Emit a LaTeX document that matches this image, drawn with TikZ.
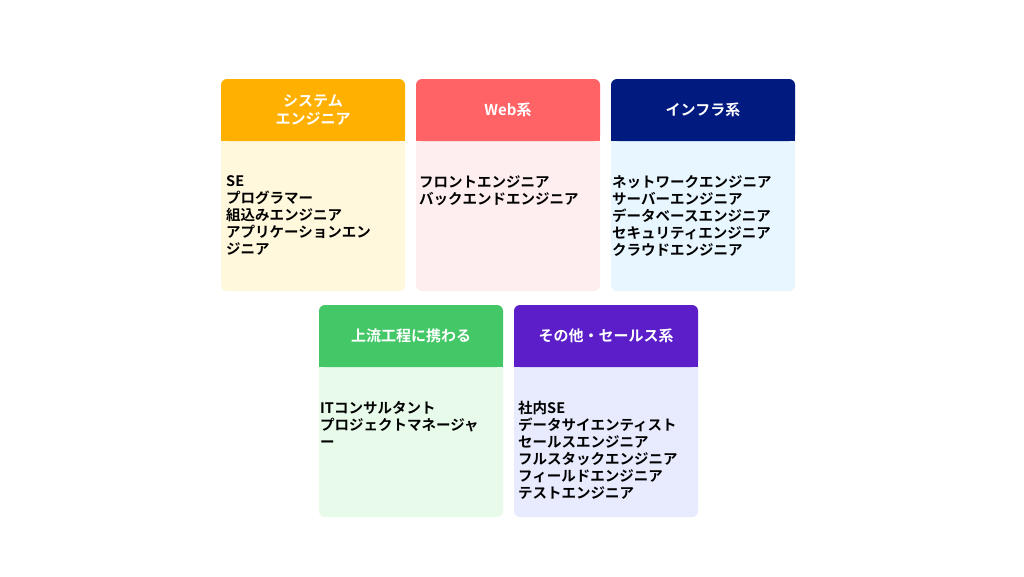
\documentclass[tikz,border=0pt]{standalone}
\usepackage{fontspec}
\newfontfamily\jp{Noto Sans CJK JP}[BoldFont={Noto Sans CJK JP Bold}]
\definecolor{h1}{HTML}{FFB000}\definecolor{b1}{HTML}{FFF8DC}
\definecolor{h2}{HTML}{FF6366}\definecolor{b2}{HTML}{FFEEEF}
\definecolor{h3}{HTML}{001A80}\definecolor{b3}{HTML}{E8F6FF}
\definecolor{h4}{HTML}{44C767}\definecolor{b4}{HTML}{E8FBEA}
\definecolor{h5}{HTML}{5B1EC8}\definecolor{b5}{HTML}{E8EAFE}
\tikzset{
 headtext/.style={text=white,font=\jp\bfseries\fontsize{15}{18}\selectfont,align=center},
 bodytext/.style={anchor=north west,font=\jp\bfseries\fontsize{14.5}{17}\selectfont,align=left,inner sep=0pt}
}
\newcommand{\catbox}[9]{% name, x, y, hcol, bcol, head, body, ytext, xshift
 \fill[#5,rounded corners=6pt] (#2,-#3) rectangle ++(184,-212);
 \fill[#4,rounded corners=6pt] (#2,-#3) rectangle ++(184,-62);
 \fill[#4] (#2,-#3-40) rectangle ++(184,-22);
 \node[headtext] (#1h) at (#2+92,-#3-31) {#6};
 \node[bodytext] (#1b) at (#2+#9,-#3-#8) {#7};
}
\begin{document}
\begin{tikzpicture}[x=1pt,y=1pt]
\useasboundingbox[fill=white] (0,0) rectangle (1024,-576);
\catbox{a}{221}{79}{h1}{b1}{システム\\エンジニア}{ SE\\プログラマー\\組込みエンジニア\\アプリケーションエン\\ジニア}{96}{5}
\catbox{b}{416}{79}{h2}{b2}{Web系}{フロントエンジニア\\バックエンドエンジニア}{96}{3}
\catbox{c}{611}{79}{h3}{b3}{インフラ系}{ネットワークエンジニア\\サーバーエンジニア\\データベースエンジニア\\セキュリティエンジニア\\クラウドエンジニア}{96}{1}
\catbox{d}{319}{305}{h4}{b4}{上流工程に携わる}{ITコンサルタント\\プロジェクトマネージャ\\ー}{96}{1}
\catbox{e}{514}{305}{h5}{b5}{その他・セールス系}{社内SE\\データサイエンティスト\\セールスエンジニア\\フルスタックエンジニア\\フィールドエンジニア\\テストエンジニア}{96}{4}
\end{tikzpicture}
\end{document}
